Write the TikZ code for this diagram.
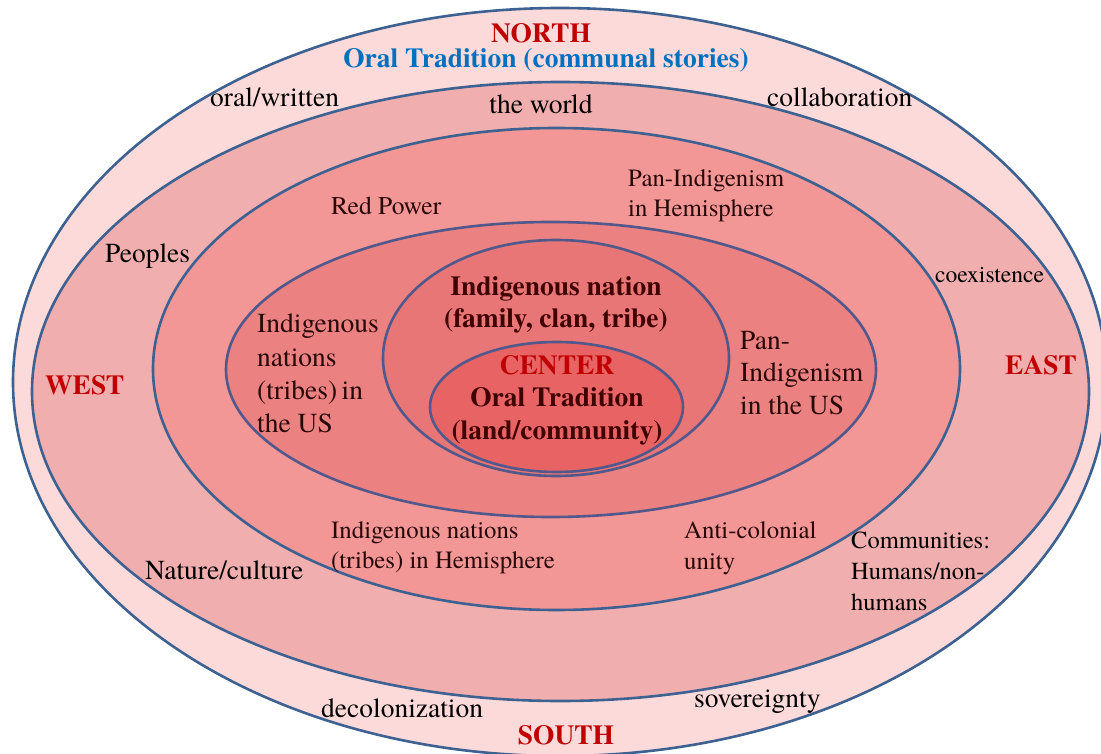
\documentclass[tikz,border=0pt]{standalone}
\usepackage{fontspec}
\setmainfont{texgyretermes-regular.otf}[BoldFont=texgyretermes-bold.otf]
\definecolor{ringblue}{RGB}{61,98,146}
\definecolor{ringpurple}{RGB}{80,88,140}
\definecolor{bandA}{RGB}{253,218,218}
\definecolor{bandB}{RGB}{240,174,174}
\definecolor{bandC}{RGB}{242,150,150}
\definecolor{bandD}{RGB}{236,129,129}
\definecolor{bandE}{RGB}{232,118,118}
\definecolor{bandF}{RGB}{232,100,100}
\definecolor{northred}{RGB}{192,0,0}
\definecolor{oralblue}{RGB}{0,112,192}
\definecolor{coretext}{RGB}{64,0,0}
\definecolor{darktext}{RGB}{40,8,8}
\begin{document}
\begin{tikzpicture}[x=1pt,y=-1pt,
  font=\fontsize{27.5}{33}\selectfont,
  ring/.style={draw=ringblue,line width=2.6pt},
  inring/.style={draw=ringpurple,line width=2.6pt},
  pole/.style={inner sep=0pt,text=northred,
    font=\fontsize{27.5}{33}\selectfont\bfseries},
  lbl/.style={inner sep=0pt,align=left},
  sml/.style={inner sep=0pt,align=left,
    font=\fontsize{24.8}{30.5}\selectfont},
  core/.style={inner sep=0pt,align=center,text=coretext,
    font=\fontsize{27.5}{32.5}\selectfont\bfseries}]
\useasboundingbox (0,0) rectangle (1101,754);
\fill[white] (0,0) rectangle (1101,754);
% rings, outside in
\draw[ring,fill=bandA] (560,382) ellipse [x radius=547pt,y radius=374pt];
\draw[ring,fill=bandB] (560.5,391.5) ellipse [x radius=528.5pt,y radius=309.5pt];
\draw[ring,fill=bandC] (556.5,369) ellipse [x radius=403.5pt,y radius=241pt];
\draw[inring,fill=bandD] (551,369.5) ellipse [x radius=325pt,y radius=147.5pt];
\draw[inring,fill=bandE] (556,358) ellipse [x radius=173pt,y radius=118pt];
\draw[inring,fill=bandF] (556.5,407) ellipse [x radius=126.5pt,y radius=65pt];
% directions
\node[pole,anchor=base] (north) at (541,43) {NORTH};
\node[pole,anchor=base,text=oralblue] (oral) at (546,68) {Oral Tradition (communal stories)};
\node[pole,anchor=base west] (west) at (45,394) {WEST};
\node[pole,anchor=base west] (east) at (1005,374) {EAST};
\node[pole,anchor=base] (south) at (566,744) {SOUTH};
% outer band
\node[lbl,anchor=base west] (written) at (210,107) {oral/written};
\node[lbl,anchor=base west] (collab) at (767,107) {collaboration};
\node[lbl,anchor=base west] (decol) at (321,717) {decolonization};
\node[lbl,anchor=base west] (sover) at (694,707) {sovereignty};
% second band
\node[lbl,anchor=base] (world) at (541,114) {the world};
\node[lbl,anchor=base west] (peoples) at (105,263) {Peoples};
\node[sml,anchor=base west,font=\fontsize{23.6}{29}\selectfont] (coexist) at (935,283) {coexistence};
\node[lbl,anchor=base west] (nature) at (145,579) {Nature/culture};
\node[sml,anchor=west,font=\fontsize{24.5}{31}\selectfont] (communities) at (851,571.5) {Communities:\\Humans/non-\\humans};
% third band
\node[sml,anchor=base west,text=darktext,font=\fontsize{25.6}{30}\selectfont] (redpower) at (331,215) {Red Power};
\node[sml,anchor=west,text=darktext] (panhemi) at (628,195.5) {Pan-Indigenism\\in Hemisphere};
\node[sml,anchor=west,text=darktext] (nathemi) at (331,547.5) {Indigenous nations\\(tribes) in Hemisphere};
\node[sml,anchor=west,text=darktext] (anticol) at (684,548) {Anti-colonial\\unity};
% fourth band
\node[lbl,anchor=west,text=darktext,font=\fontsize{27.5}{33.3}\selectfont] (natus) at (257,373.5) {Indigenous\\nations\\(tribes)\,in\\the US};
\node[lbl,anchor=west,text=darktext,font=\fontsize{27.5}{32.5}\selectfont] (panus) at (740,373) {Pan-\\Indigenism\\in the US};
% core
\node[core] (nation) at (556,305) {Indigenous nation\\(family, clan, tribe)};
\node[core] (center) at (557,400) {\textcolor{northred}{CENTER}\\Oral Tradition\\(land/community)};
\end{tikzpicture}
\end{document}
